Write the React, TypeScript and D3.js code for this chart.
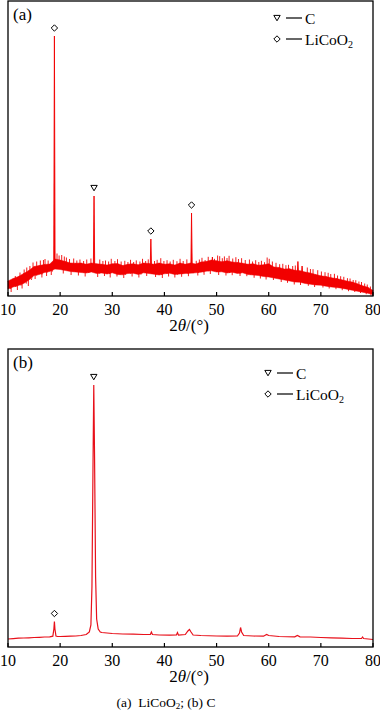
import React from "react";
import * as d3 from "d3";

// ---------- Panel (a): LiCoO2 ----------
const aAngles = [10,11,12,13,14,15,16,17,18,19,20,21,22,23,24,25,26,27,28,29,30,31,32,33,34,35,36,37,38,39,40,41,42,43,44,45,46,47,48,49,50,51,52,53,54,55,56,57,58,59,60,61,62,63,64,65,66,67,68,69,70,71,72,73,74,75,76,77,78,79,80];
const aLow = [70,90,105,125,160,205,215,235,245,270,265,255,245,240,235,230,240,225,230,220,232,215,212,225,228,215,232,225,218,210,222,228,215,220,225,228,232,238,248,252,240,242,230,238,225,232,215,210,205,195,190,180,170,160,150,140,138,125,118,110,108,98,90,85,78,68,58,48,38,28,15];
const aHigh = [150,175,195,225,255,295,305,315,320,370,360,345,330,328,330,318,330,322,318,310,322,325,305,318,322,312,330,325,318,330,318,322,310,330,318,330,320,340,345,360,352,342,352,340,335,328,318,322,308,312,322,290,285,270,272,258,252,240,230,215,202,195,182,175,162,150,140,122,102,88,55];
// individual noise spikes [angle, intensity]
const aSpikeUpPos = [11.4,12.3,13.1,13.6,14.2,14.8,15.5,16.2,16.8,17.1,17.7,19.4,19.8,20.3,20.8,21.2,21.8,22.6,23.2,23.8,24.5,25.1,25.9,27.6,28.2,28.7,29.3,29.8,30.5,31.0,31.7,32.4,33.0,33.5,34.1,34.6,35.3,35.8,36.4,36.9,38.1,38.6,39.3,39.9,40.5,41.1,41.7,42.4,43.0,43.6,44.3,46.1,46.7,47.2,47.8,48.4,49.6,50.2,50.6,51.1,51.5,52.0,52.4,53.1,53.7,54.2,54.8,55.5,56.3,56.9,57.5,58.1,58.6,59.2,59.7,60.1,60.7,61.4,62.1,62.7,63.3,63.8,64.6,65.1,67.4,68.0,68.5,69.4,70.1,70.8,71.4,71.9,72.6,73.2,73.8,74.4,75.1,75.6,76.2,76.7,77.3,77.8,78.4,78.9,79.5];
const aSpikeUpVal = [200,235,265,285,300,335,345,355,360,370,355,425,405,410,395,385,370,375,355,365,350,365,375,365,350,355,345,372,350,368,345,352,340,362,340,356,345,372,350,366,350,362,378,350,358,345,362,348,372,350,366,352,365,382,360,392,372,405,398,378,396,380,402,375,388,370,378,360,365,345,358,340,352,338,385,372,345,332,318,322,308,312,300,305,285,270,268,258,245,238,232,220,222,205,198,192,178,175,160,158,145,140,125,115,95];
const aSpikeDnPos = [10.6,11.8,12.7,13.9,15.2,16.5,17.4,18.3,20.6,22.1,23.5,24.8,27.2,28.5,29.6,30.9,32.2,33.8,35.1,36.6,38.3,39.6,40.8,42.0,43.3,44.6,46.4,47.6,48.8,50.4,51.8,53.0,54.5,55.8,57.2,58.4,59.5,60.9,62.4,63.6,64.9,66.1,67.6,68.8,70.4,71.6,72.9,74.1,75.3,76.5,77.6,78.7,79.6];
const aSpikeDnVal = [40,60,75,100,170,185,200,210,225,210,205,195,190,200,185,195,180,195,185,200,190,180,195,185,192,198,205,212,220,210,205,208,200,198,182,175,165,160,140,132,115,110,102,90,85,75,68,58,48,40,30,18,5];
const aPeakPos = [18.9, 26.5, 37.4, 45.2, 49.2, 65.6, 66.4];
const aPeakTop = [2600, 1000, 570, 830, 390, 345, 300];
const aPeakBase = [290, 280, 280, 280, 300, 210, 200];
const aPeakMarker = ["diamond", "triangle", "diamond", "diamond", "", "", ""];

// ---------- Panel (b): C ----------
const bAngles = [10,11,12,13,14,15,16,17,18,18.6,18.8,18.9,19.0,19.2,19.5,20,21,22,23,24,25,25.6,25.9,26.1,26.3,26.45,26.6,26.8,27.0,27.3,27.7,28,29,30,32,34,36,37.3,37.5,37.7,39,41,42.3,42.5,42.7,44,44.5,44.8,45.1,45.5,47,50,52,54,54.4,54.6,54.8,55.2,57,59,59.6,60,62,65,65.5,66,68,70,72,74,76,77.8,78,78.2,80];
const bIntensity = [80,84,88,90,92,95,97,100,102,108,180,255,180,110,105,105,107,108,110,115,125,150,220,600,1800,2620,1900,700,280,180,150,145,140,135,130,128,125,125,150,125,120,118,120,145,118,125,160,175,150,120,115,110,108,110,140,195,150,115,110,108,125,115,105,102,115,102,100,95,92,88,85,85,100,85,75];
const bPeakPos = [26.45, 18.9];
const bPeakTop = [2620, 255];
const bPeakMarker = ["triangle", "diamond"];

const xTicks = [10, 20, 30, 40, 50, 60, 70, 80];
const legendLabels = ["C", "LiCoO2"];

const RED = "#f20000";
const FONT = "'Liberation Serif', 'DejaVu Serif', serif";

function Marker({ kind, cx, cy }: { kind: string; cx: number; cy: number }) {
  if (kind === "triangle") {
    return <path d={`M${cx - 3.2},${cy - 2.6} L${cx + 3.2},${cy - 2.6} L${cx},${cy + 2.8} Z`} fill="white" stroke="black" strokeWidth={1} />;
  }
  if (kind === "diamond") {
    return <path d={`M${cx},${cy - 3.2} L${cx + 3.2},${cy} L${cx},${cy + 3.2} L${cx - 3.2},${cy} Z`} fill="white" stroke="black" strokeWidth={1} />;
  }
  return null;
}

function Legend({ x0, y0 }: { x0: number; y0: number }) {
  return (
    <g>
      <Marker kind="triangle" cx={x0} cy={y0} />
      <line x1={x0 + 9} x2={x0 + 25} y1={y0} y2={y0} stroke="black" strokeWidth={1.2} />
      <text x={x0 + 28} y={y0 + 5.5} fontSize={15.5} fontFamily={FONT}>{legendLabels[0]}</text>
      <Marker kind="diamond" cx={x0} cy={y0 + 21} />
      <line x1={x0 + 9} x2={x0 + 25} y1={y0 + 21} y2={y0 + 21} stroke="black" strokeWidth={1.2} />
      <text x={x0 + 28} y={y0 + 26.5} fontSize={15.5} fontFamily={FONT}>
        LiCoO<tspan fontSize={10} dy={3}>2</tspan>
      </text>
    </g>
  );
}

function Frame({ top, bottom, left, right, x, label }: any) {
  return (
    <g>
      <rect x={left} y={top} width={right - left} height={bottom - top} fill="none" stroke="black" strokeWidth={1.3} />
      {xTicks.map((t) => (
        <g key={t}>
          <line x1={x(t)} x2={x(t)} y1={bottom} y2={bottom - 4} stroke="black" strokeWidth={1.2} />
          <text x={x(t)} y={bottom + 19} textAnchor="middle" fontSize={16} fontFamily={FONT}>{t}</text>
        </g>
      ))}
      <text x={189} y={bottom + 35} textAnchor="middle" fontSize={17} fontFamily={FONT}>
        2<tspan fontStyle="italic">θ</tspan>/(°)
      </text>
      <text x={left + 5} y={top + 19} fontSize={17} fontFamily={FONT}>{label}</text>
    </g>
  );
}

export default function App() {
  const left = 8, right = 373;
  const x = d3.scaleLinear().domain([10, 80]).range([left, right]);

  // panel a
  const aTop = 1, aBottom = 296;
  const ya = d3.scaleLinear().domain([0, 2950]).range([aBottom, aTop]);
  const bandData = aAngles.map((t, i) => ({ t, lo: aLow[i], hi: aHigh[i] }));
  const band = d3.area<any>().x((d) => x(d.t)).y0((d) => ya(d.lo)).y1((d) => ya(d.hi))(bandData) || "";
  const zig: [number, number][] = [];
  aAngles.forEach((t, i) => {
    zig.push([t, aHigh[i]]);
    if (i < aAngles.length - 1) zig.push([t + 0.5, aLow[i]]);
  });
  const zigPath = d3.line().x((d) => x(d[0])).y((d) => ya(d[1]))(zig) || "";
  const peakLine = d3.line<[number, number]>().x((d) => x(d[0])).y((d) => ya(d[1]));
  const midAt = (t: number) => {
    const i = Math.max(0, Math.min(aAngles.length - 1, Math.round(t - 10)));
    return (aLow[i] + aHigh[i]) / 2;
  };

  // panel b
  const bTop = 349, bBottom = 647;
  const yb = d3.scaleLinear().domain([0, 2980]).range([bBottom, bTop]);
  const bPath = d3.line<number>().x((_, i) => x(bAngles[i])).y((d) => yb(d))(bIntensity) || "";

  return (
    <svg width={380} height={718} style={{ position: "absolute", left: 0, top: 0, background: "white" }}>
      {/* panel a */}
      <path d={band} fill={RED} stroke={RED} strokeWidth={0.5} />
      <path d={zigPath} fill="none" stroke={RED} strokeWidth={0.6} />
      {aSpikeUpPos.map((p, i) => (
        <line key={"u" + p} x1={x(p)} x2={x(p)} y1={ya(midAt(p))} y2={ya(aSpikeUpVal[i])} stroke={RED} strokeWidth={0.9} />
      ))}
      {aSpikeDnPos.map((p, i) => (
        <line key={"d" + p} x1={x(p)} x2={x(p)} y1={ya(midAt(p))} y2={ya(aSpikeDnVal[i])} stroke={RED} strokeWidth={0.9} />
      ))}
      {aPeakPos.map((p, i) => (
        <path key={p} d={peakLine([[p - 0.13, aPeakBase[i]], [p, aPeakTop[i]], [p + 0.13, aPeakBase[i]]]) || ""} fill={RED} stroke={RED} strokeWidth={0.9} />
      ))}
      {aPeakPos.map((p, i) => (
        <Marker key={"m" + p} kind={aPeakMarker[i]} cx={x(p)} cy={ya(aPeakTop[i]) - 8} />
      ))}
      <Frame top={aTop} bottom={aBottom} left={left} right={right} x={x} label="(a)" />
      <Legend x0={277} y0={18} />

      {/* panel b */}
      <path d={bPath} fill="none" stroke="#e8101a" strokeWidth={1.2} />
      {bPeakPos.map((p, i) => (
        <Marker key={"bm" + p} kind={bPeakMarker[i]} cx={x(p)} cy={yb(bPeakTop[i]) - 8} />
      ))}
      <Frame top={bTop} bottom={bBottom} left={left} right={right} x={x} label="(b)" />
      <Legend x0={268} y0={373} />

      <text x={166} y={707} textAnchor="middle" fontSize={13.5} fontFamily={FONT} style={{ whiteSpace: "pre" }}>
        {"(a)  LiCoO"}<tspan fontSize={9} dy={2}>2</tspan><tspan dy={-2}>{"; (b) C"}</tspan>
      </text>
    </svg>
  );
}
